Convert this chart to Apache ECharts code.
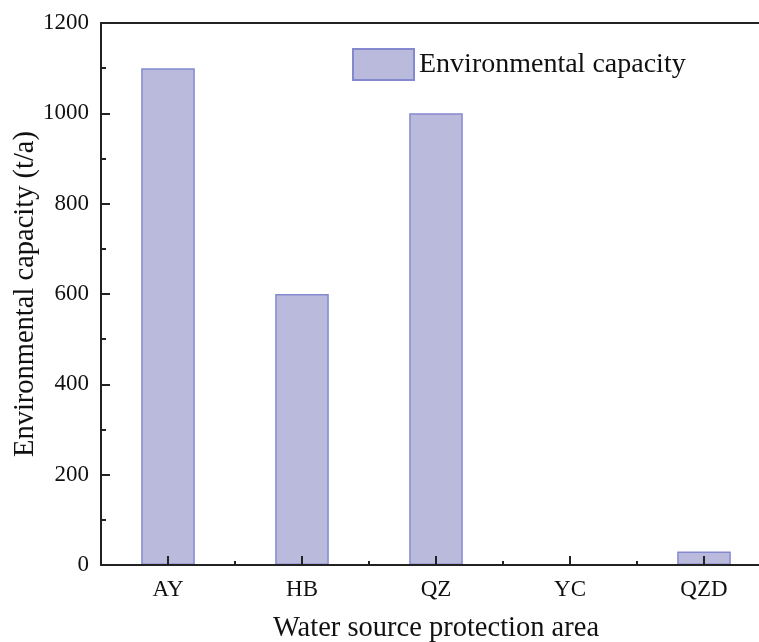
<!DOCTYPE html>
<html>
<head>
<meta charset="utf-8">
<script src="https://cdn.jsdelivr.net/npm/echarts@6/dist/echarts.min.js"></script>
<style>
  html, body { margin: 0; padding: 0; background: #fff; }
  #main { width: 759px; height: 642px; }
</style>
</head>
<body>
<div id="main"></div>
<script>
// 水源保护区环境容量
const categories = ["AY", "HB", "QZ", "YC", "QZD"];
const capacity = [1100, 600, 1000, 0, 30];
const yTicks = [0, 200, 400, 600, 800, 1000, 1200];

const font = "Liberation Serif";
const axisColor = "#222";

const chart = echarts.init(document.getElementById("main"));

const options = {
  backgroundColor: "#fff",
  textStyle: { fontFamily: font },
  legend: {
    data: ["Environmental capacity"],
    left: 347,
    top: 43,
    icon: "rect",
    itemWidth: 61,
    itemHeight: 31,
    textStyle: { fontFamily: font, fontSize: 28, color: "#111" },
  },
  grid: {
    left: 101,
    top: 23,
    width: 670,
    height: 542,
    containLabel: false,
    outerBoundsMode: "none",
  },
  xAxis: [
    {
      type: "category",
      data: categories,
      z: 10,
      name: "Water source protection area",
      nameLocation: "middle",
      nameGap: 49,
      nameTextStyle: { fontFamily: font, fontSize: 28.5, color: "#111" },
      axisLine: { lineStyle: { color: axisColor, width: 2 } },
      axisTick: {
        show: true,
        alignWithLabel: true,
        inside: true,
        length: 9,
        lineStyle: { color: axisColor, width: 2 },
      },
      axisLabel: { fontFamily: font, fontSize: 23, color: "#111", margin: 13 },
    },
    {
      // 类别边界的小刻度
      type: "category",
      data: categories,
      position: "bottom",
      z: 10,
      axisLine: { show: false },
      axisTick: {
        show: true,
        inside: true,
        length: 4,
        lineStyle: { color: axisColor, width: 2 },
      },
      axisLabel: { show: false },
    },
    {
      // 顶部边框
      type: "category",
      data: categories,
      position: "top",
      z: 10,
      axisLine: { lineStyle: { color: axisColor, width: 2 } },
      axisTick: { show: false },
      axisLabel: { show: false },
    },
  ],
  yAxis: {
    type: "value",
    min: yTicks[0],
    max: yTicks[yTicks.length - 1],
    interval: 200,
    z: 10,
    name: "Environmental capacity (t/a)",
    nameLocation: "middle",
    nameGap: 61,
    nameMoveOverlap: false,
    nameTextStyle: { fontFamily: font, fontSize: 28.5, color: "#111" },
    axisLine: { show: true, lineStyle: { color: axisColor, width: 2 } },
    axisTick: {
      show: true,
      inside: true,
      length: 9,
      lineStyle: { color: axisColor, width: 2 },
    },
    minorTick: {
      show: true,
      splitNumber: 2,
      length: 5,
      lineStyle: { color: axisColor, width: 2 },
    },
    splitLine: { show: false },
    axisLabel: {
      fontFamily: font,
      fontSize: 23,
      color: "#111",
      margin: 12,
      formatter: (v) => String(v),
    },
  },
  series: [
    {
      name: "Environmental capacity",
      type: "bar",
      xAxisIndex: 0,
      data: capacity,
      barWidth: "40%",
      itemStyle: {
        color: "#b9badc",
        borderColor: "#8489cf",
        borderWidth: 1.5,
      },
      z: 1,
    },
  ],
};

chart.setOption(options);
window.addEventListener("resize", () => {
  chart.resize();
});
</script>
</body>
</html>
